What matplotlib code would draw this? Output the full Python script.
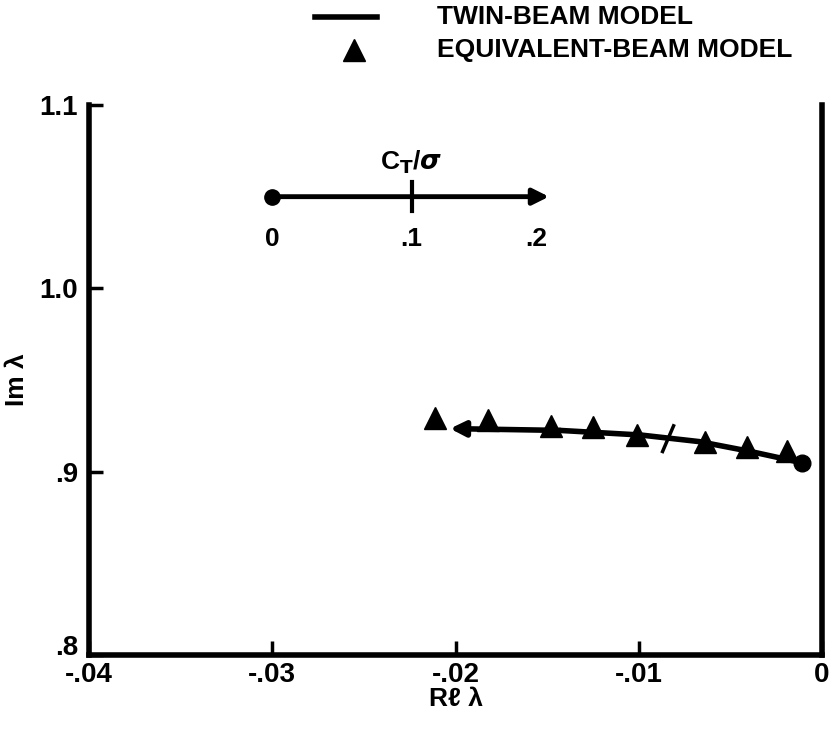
import numpy as np
import matplotlib.pyplot as plt
from matplotlib.lines import Line2D

plt.rcParams['font.family'] = ['Liberation Sans', 'DejaVu Sans']
plt.rcParams['font.weight'] = 'bold'

# Twin-beam model locus (C_T/sigma from 0 to .2, right to left)
twin_re = [-0.0011, -0.0039, -0.0067, -0.0099, -0.0143, -0.0203]
twin_im = [0.9049, 0.9110, 0.9164, 0.9200, 0.9225, 0.9235]
twin_tick_re = -0.0084   # C_T/sigma = .1 mark
twin_tick_im = 0.9180

# Equivalent-beam model points
equiv_re = [-0.0211, -0.0182, -0.0148, -0.0125, -0.0101, -0.0064, -0.0041, -0.0019]
equiv_im = [0.9290, 0.9280, 0.9250, 0.9246, 0.9200, 0.9164, 0.9137, 0.9115]

# C_T/sigma key
key_labels = ['0', '.1', '.2']
key_re = [-0.0300, -0.0224, -0.0156]

fig = plt.figure(figsize=(8.3, 7.29), dpi=100)
ax = fig.add_axes([89 / 830, 1 - 655 / 729, (822 - 89) / 830, (655 - 105) / 729])

ax.plot(twin_re[:-1], twin_im[:-1], color='black', lw=4, solid_capstyle='round')
ax.annotate('', xy=(twin_re[-1], twin_im[-1]), xytext=(twin_re[-2], twin_im[-2]),
            arrowprops=dict(arrowstyle='-|>', color='black', lw=4,
                            mutation_scale=22, shrinkA=0, shrinkB=0))
ax.plot(twin_re[0], twin_im[0], 'o', color='black', ms=12)
ax.plot([twin_tick_re - 0.0003, twin_tick_re + 0.0003],
        [twin_tick_im - 0.007, twin_tick_im + 0.007], color='black', lw=2.5)

ax.plot(equiv_re, equiv_im, '^', color='black', ms=16, ls='none')

# key for C_T/sigma
ax.plot(key_re[0], 1.05, 'o', color='black', ms=11)
ax.annotate('', xy=(-0.0149, 1.05), xytext=(key_re[0], 1.05),
            arrowprops=dict(arrowstyle='-|>', color='black', lw=3.5,
                            mutation_scale=24, shrinkA=0, shrinkB=0))
ax.plot([key_re[1], key_re[1]], [1.042, 1.058], color='black', lw=3)
for lab, xr in zip(key_labels, key_re):
    ax.text(xr, 1.027, lab, ha='center', va='center', fontsize=19, fontweight='bold')
ax.text(key_re[1], 1.069, r'C$_\mathbf{T}$/$\sigma$', ha='center', va='center',
        fontsize=19, fontweight='bold')

ax.set_xlim(-0.04, 0)
ax.set_ylim(0.8, 1.1)
ax.set_xticks([-0.04, -0.03, -0.02, -0.01, 0])
ax.set_xticklabels(['-.04', '-.03', '-.02', '-.01', '0'])
ax.set_yticks([0.8, 0.9, 1.0, 1.1])
ax.set_yticklabels(['.8', '.9', '1.0', '1.1'])
ax.tick_params(direction='in', length=10, width=2.5, labelsize=20, pad=8)
ax.tick_params(axis='x', pad=5)
for lab in ax.get_xticklabels() + ax.get_yticklabels():
    lab.set_fontweight('bold')
ax.get_yticklabels()[0].set_va('baseline')
ax.spines['top'].set_visible(False)
for s in ['left', 'bottom', 'right']:
    ax.spines[s].set_linewidth(4)

ax.set_xlabel('Rℓ λ', fontsize=19, fontweight='bold')
ax.set_ylabel('Im λ', fontsize=19, fontweight='bold')
ax.xaxis.set_label_coords(0.5, -0.058)
ax.yaxis.set_label_coords(-0.082, 0.5)

# legend at top
fig.add_artist(Line2D([315 / 830, 377 / 830], [1 - 17 / 729] * 2, color='black', lw=4,
                      transform=fig.transFigure))
fig.add_artist(Line2D([354 / 830], [1 - 50 / 729], marker='^', color='black', ms=16,
                      transform=fig.transFigure))
fig.text(437 / 830, 1 - 17 / 729, 'TWIN-BEAM MODEL', fontsize=19, fontweight='bold', va='center')
fig.text(437 / 830, 1 - 50 / 729, 'EQUIVALENT-BEAM MODEL', fontsize=19, fontweight='bold', va='center')

fig.savefig('out.png', dpi=100)
